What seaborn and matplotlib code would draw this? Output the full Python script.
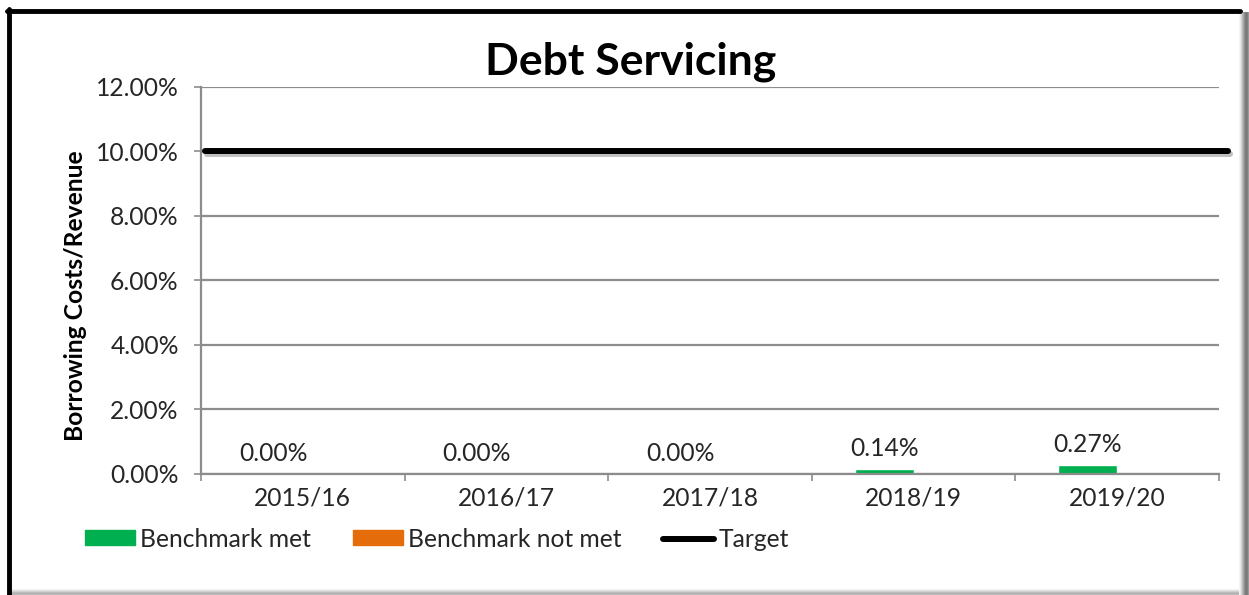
import matplotlib
matplotlib.use("Agg")
import matplotlib.pyplot as plt
import matplotlib.patheffects as pe
from matplotlib.lines import Line2D
from matplotlib.patches import Patch, Rectangle
from matplotlib.ticker import FuncFormatter, FixedLocator
import numpy as np
import pandas as pd
import seaborn as sns

# Data (percent of revenue)
years = ["2015/16", "2016/17", "2017/18", "2018/19", "2019/20"]
benchmark_met = [0.00, 0.00, 0.00, 0.14, 0.27]
benchmark_not_met = [0.00, 0.00, 0.00, 0.00, 0.00]
target = 10.0
y_ticks = [0, 2, 4, 6, 8, 10, 12]

series_names = ["Benchmark met", "Benchmark not met"]
series_colors = ["#00B050", "#E46C0A"]

df = pd.DataFrame({
    "year": years * 2,
    "series": [series_names[0]] * len(years) + [series_names[1]] * len(years),
    "value": benchmark_met + benchmark_not_met,
})

sns.set_style("white")
plt.rcParams["font.family"] = ["Lato", "DejaVu Sans"]
text_color = "#262626"
grid_color = "#8C8C8C"
fs = 17.7

fig = plt.figure(figsize=(12.49, 5.95), dpi=100)
ax = fig.add_axes([0.1609, 0.2034, 0.976 - 0.1609, 0.8538 - 0.2034])

sns.barplot(data=df, x="year", y="value", hue="series", order=years,
            hue_order=series_names, palette=series_colors, width=0.58,
            dodge=True, saturation=1, ax=ax, legend=False)

# Value labels on the "met" series
ax.bar_label(ax.containers[0], labels=[f"{v:.2f}%" for v in benchmark_met],
             padding=6.5, fontsize=fs, color=text_color)

# Target line
ax.axhline(target, xmin=0.004, xmax=1.009, color="black", lw=4.3, clip_on=False,
           path_effects=[pe.SimpleLineShadow(offset=(1.5, -1.5), alpha=0.25),
                         pe.Normal()], zorder=4)

ax.set_ylim(0, 12)
ax.set_xlim(-0.5, len(years) - 0.5)
ax.yaxis.set_major_locator(FixedLocator(y_ticks))
ax.yaxis.set_major_formatter(FuncFormatter(lambda v, p: f"{v:.2f}%"))
ax.grid(axis="y", color=grid_color, lw=1.6)
ax.set_axisbelow(True)

for side in ["top", "right"]:
    ax.spines[side].set_visible(False)
for side in ["left", "bottom"]:
    ax.spines[side].set_color(grid_color)
    ax.spines[side].set_linewidth(1.6)

ax.tick_params(axis="y", length=5, width=1.2, color=grid_color, pad=11,
               labelsize=fs, labelcolor=text_color, left=True)
ax.tick_params(axis="x", which="major", length=0, pad=9,
               labelsize=fs, labelcolor=text_color)
ax.set_xticks(np.arange(-0.5, len(years), 1.0), minor=True)
ax.tick_params(axis="x", which="minor", length=5, width=1.2, color=grid_color,
               bottom=True)

ax.set_xlabel("")
ax.set_ylabel("Borrowing Costs/Revenue", fontsize=fs, fontweight="bold",
              color="black")
ax.yaxis.set_label_coords(-0.112, 0.461)

fig.text(0.505, 0.896, "Debt Servicing", ha="center", va="center",
         fontsize=32, fontweight="bold", color="black")

handles = [Patch(color=series_colors[0]), Patch(color=series_colors[1]),
           Line2D([], [], color="black", lw=4.3)]
fig.legend(handles, ["Benchmark met", "Benchmark not met", "Target"],
           loc="center left", bbox_to_anchor=(0.05, 0.094), ncol=3,
           frameon=False, fontsize=fs, handlelength=2.05, handleheight=0.55,
           handletextpad=0.2, columnspacing=1.7, labelcolor=text_color)

# Outer chart frame with soft shadow at right and bottom
W, H = 1249, 595
def fx(px):
    return px / W
def fy(py):
    return 1 - py / H

fig.add_artist(Line2D([fx(8.5), fx(8.5)], [0, fy(9)], color="black", lw=3.5,
                      transform=fig.transFigure))
fig.add_artist(Line2D([fx(7), fx(1240)], [fy(11), fy(11)], color="black", lw=3.5,
                      transform=fig.transFigure))
shades = ["#f4f4f4", "#e6e6e6", "#d4d4d4", "#bdbdbd", "#a5a5a5", "#8f8f8f",
          "#7f7f7f", "#777777", "#808080", "#999999"]
for i, c in enumerate(shades):
    fig.add_artist(Rectangle((fx(1239 + i), 0), fx(1), fy(12), color=c,
                             transform=fig.transFigure, lw=0))
for i, c in enumerate(["#f2f2f2", "#e2e2e2", "#cfcfcf", "#bcbcbc", "#b0b0b0",
                       "#bbbbbb", "#d0d0d0"]):
    fig.add_artist(Rectangle((fx(11), fy(589 + i) - 1 / H), fx(1228), 1 / H,
                             color=c, transform=fig.transFigure, lw=0))

fig.savefig("out.png", dpi=100, facecolor="white")
